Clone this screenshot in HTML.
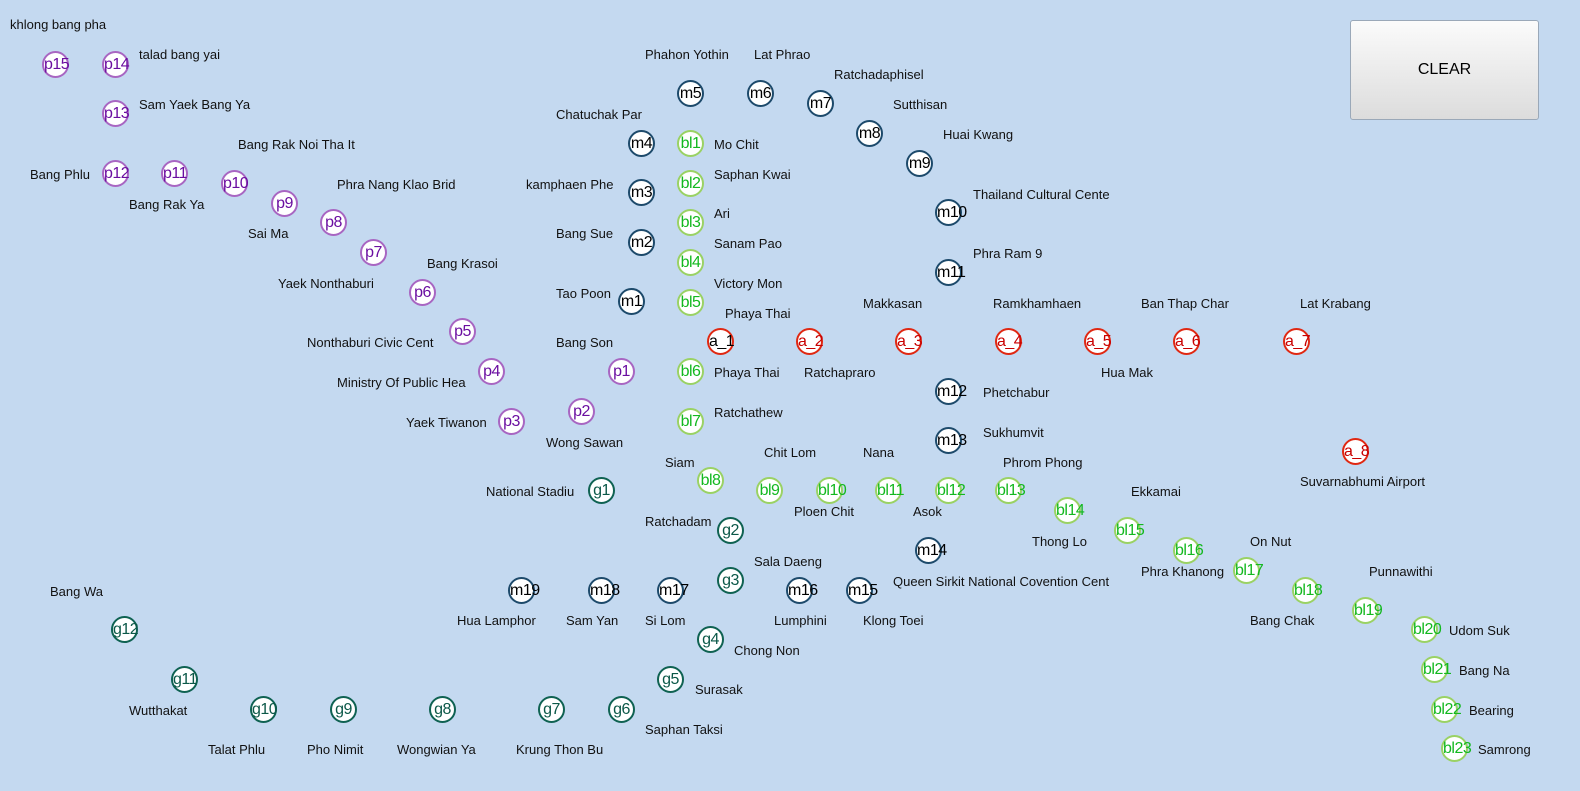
<!DOCTYPE html>
<html><head><meta charset="utf-8"><style>
body{margin:0;width:1580px;height:791px;background:#c4d9f0;position:relative;overflow:hidden;font-family:"Liberation Sans",sans-serif;}
.l{position:absolute;font-size:13px;line-height:16px;color:#111;white-space:nowrap;}
.n{position:absolute;width:27px;height:27px;box-sizing:border-box;border:2px solid;border-radius:50%;background:#fff;font-size:16px;line-height:23px;text-align:center;white-space:nowrap;letter-spacing:-0.5px;}
.p{border-color:#a866c2;color:#6a0ea0}
.m{border-color:#1d4a6b;color:#000}
.b{border-color:#9ad264;color:#13b81f}
.a{border-color:#e02812;color:#c80000}
.g{border-color:#0f6252;color:#0b5848}
.btn{position:absolute;left:1350px;top:20px;width:189px;height:100px;box-sizing:border-box;border:1px solid #9aa8b8;border-radius:3px;background:linear-gradient(#fbfbfb,#dcdcdc);font-size:16px;line-height:98px;text-align:center;color:#000;}
</style></head><body>
<div class="btn">CLEAR</div>

<div class="n p" style="left:42px;top:51px">p15</div>
<div class="n p" style="left:102px;top:51px">p14</div>
<div class="n p" style="left:102px;top:100px">p13</div>
<div class="n p" style="left:102px;top:160px">p12</div>
<div class="n p" style="left:161px;top:160px">p11</div>
<div class="n p" style="left:221px;top:170px">p10</div>
<div class="n p" style="left:271px;top:190px">p9</div>
<div class="n p" style="left:320px;top:209px">p8</div>
<div class="n p" style="left:360px;top:239px">p7</div>
<div class="n p" style="left:409px;top:279px">p6</div>
<div class="n p" style="left:449px;top:318px">p5</div>
<div class="n p" style="left:478px;top:358px">p4</div>
<div class="n p" style="left:498px;top:408px">p3</div>
<div class="n p" style="left:568px;top:398px">p2</div>
<div class="n p" style="left:608px;top:358px">p1</div>

<div class="n m" style="left:618px;top:288px">m1</div>
<div class="n m" style="left:628px;top:229px">m2</div>
<div class="n m" style="left:628px;top:179px">m3</div>
<div class="n m" style="left:628px;top:130px">m4</div>
<div class="n m" style="left:677px;top:80px">m5</div>
<div class="n m" style="left:747px;top:80px">m6</div>
<div class="n m" style="left:807px;top:90px">m7</div>
<div class="n m" style="left:856px;top:120px">m8</div>
<div class="n m" style="left:906px;top:150px">m9</div>
<div class="n m" style="left:935px;top:199px">m10</div>
<div class="n m" style="left:935px;top:259px">m11</div>
<div class="n m" style="left:935px;top:378px">m12</div>
<div class="n m" style="left:935px;top:427px">m13</div>
<div class="n m" style="left:915px;top:537px">m14</div>
<div class="n m" style="left:846px;top:577px">m15</div>
<div class="n m" style="left:786px;top:577px">m16</div>
<div class="n m" style="left:657px;top:577px">m17</div>
<div class="n m" style="left:588px;top:577px">m18</div>
<div class="n m" style="left:508px;top:577px">m19</div>

<div class="n b" style="left:677px;top:130px">bl1</div>
<div class="n b" style="left:677px;top:170px">bl2</div>
<div class="n b" style="left:677px;top:209px">bl3</div>
<div class="n b" style="left:677px;top:249px">bl4</div>
<div class="n b" style="left:677px;top:289px">bl5</div>
<div class="n b" style="left:677px;top:358px">bl6</div>
<div class="n b" style="left:677px;top:408px">bl7</div>
<div class="n b" style="left:697px;top:467px">bl8</div>
<div class="n b" style="left:756px;top:477px">bl9</div>
<div class="n b" style="left:816px;top:477px">bl10</div>
<div class="n b" style="left:875px;top:477px">bl11</div>
<div class="n b" style="left:935px;top:477px">bl12</div>
<div class="n b" style="left:995px;top:477px">bl13</div>
<div class="n b" style="left:1054px;top:497px">bl14</div>
<div class="n b" style="left:1114px;top:517px">bl15</div>
<div class="n b" style="left:1173px;top:537px">bl16</div>
<div class="n b" style="left:1233px;top:557px">bl17</div>
<div class="n b" style="left:1292px;top:577px">bl18</div>
<div class="n b" style="left:1352px;top:597px">bl19</div>
<div class="n b" style="left:1411px;top:616px">bl20</div>
<div class="n b" style="left:1421px;top:656px">bl21</div>
<div class="n b" style="left:1431px;top:696px">bl22</div>
<div class="n b" style="left:1441px;top:735px">bl23</div>

<div class="n a" style="left:707px;top:328px;color:#000">a_1</div>
<div class="n a" style="left:796px;top:328px">a_2</div>
<div class="n a" style="left:895px;top:328px">a_3</div>
<div class="n a" style="left:995px;top:328px">a_4</div>
<div class="n a" style="left:1084px;top:328px">a_5</div>
<div class="n a" style="left:1173px;top:328px">a_6</div>
<div class="n a" style="left:1283px;top:328px">a_7</div>
<div class="n a" style="left:1342px;top:438px">a_8</div>

<div class="n g" style="left:588px;top:477px">g1</div>
<div class="n g" style="left:717px;top:517px">g2</div>
<div class="n g" style="left:717px;top:567px">g3</div>
<div class="n g" style="left:697px;top:626px">g4</div>
<div class="n g" style="left:657px;top:666px">g5</div>
<div class="n g" style="left:608px;top:696px">g6</div>
<div class="n g" style="left:538px;top:696px">g7</div>
<div class="n g" style="left:429px;top:696px">g8</div>
<div class="n g" style="left:330px;top:696px">g9</div>
<div class="n g" style="left:250px;top:696px">g10</div>
<div class="n g" style="left:171px;top:666px">g11</div>
<div class="n g" style="left:111px;top:616px">g12</div>

<div class="l" style="left:10px;top:17px">khlong bang pha</div>
<div class="l" style="left:139px;top:47px">talad bang yai</div>
<div class="l" style="left:139px;top:97px">Sam Yaek Bang Ya</div>
<div class="l" style="left:238px;top:137px">Bang Rak Noi Tha It</div>
<div class="l" style="left:30px;top:167px">Bang Phlu</div>
<div class="l" style="left:129px;top:197px">Bang Rak Ya</div>
<div class="l" style="left:337px;top:177px">Phra Nang Klao Brid</div>
<div class="l" style="left:248px;top:226px">Sai Ma</div>
<div class="l" style="left:278px;top:276px">Yaek Nonthaburi</div>
<div class="l" style="left:427px;top:256px">Bang Krasoi</div>
<div class="l" style="left:307px;top:335px">Nonthaburi Civic Cent</div>
<div class="l" style="left:337px;top:375px">Ministry Of Public Hea</div>
<div class="l" style="left:406px;top:415px">Yaek Tiwanon</div>
<div class="l" style="left:546px;top:435px">Wong Sawan</div>
<div class="l" style="left:556px;top:335px">Bang Son</div>
<div class="l" style="left:556px;top:286px">Tao Poon</div>
<div class="l" style="left:556px;top:226px">Bang Sue</div>
<div class="l" style="left:526px;top:177px">kamphaen Phe</div>
<div class="l" style="left:556px;top:107px">Chatuchak Par</div>
<div class="l" style="left:645px;top:47px">Phahon Yothin</div>
<div class="l" style="left:754px;top:47px">Lat Phrao</div>
<div class="l" style="left:834px;top:67px">Ratchadaphisel</div>
<div class="l" style="left:893px;top:97px">Sutthisan</div>
<div class="l" style="left:943px;top:127px">Huai Kwang</div>
<div class="l" style="left:973px;top:187px">Thailand Cultural Cente</div>
<div class="l" style="left:973px;top:246px">Phra Ram 9</div>
<div class="l" style="left:714px;top:137px">Mo Chit</div>
<div class="l" style="left:714px;top:167px">Saphan Kwai</div>
<div class="l" style="left:714px;top:206px">Ari</div>
<div class="l" style="left:714px;top:236px">Sanam Pao</div>
<div class="l" style="left:714px;top:276px">Victory Mon</div>
<div class="l" style="left:725px;top:306px">Phaya Thai</div>
<div class="l" style="left:863px;top:296px">Makkasan</div>
<div class="l" style="left:993px;top:296px">Ramkhamhaen</div>
<div class="l" style="left:1141px;top:296px">Ban Thap Char</div>
<div class="l" style="left:1300px;top:296px">Lat Krabang</div>
<div class="l" style="left:714px;top:365px">Phaya Thai</div>
<div class="l" style="left:804px;top:365px">Ratchapraro</div>
<div class="l" style="left:1101px;top:365px">Hua Mak</div>
<div class="l" style="left:983px;top:385px">Phetchabur</div>
<div class="l" style="left:714px;top:405px">Ratchathew</div>
<div class="l" style="left:983px;top:425px">Sukhumvit</div>
<div class="l" style="left:764px;top:445px">Chit Lom</div>
<div class="l" style="left:863px;top:445px">Nana</div>
<div class="l" style="left:1003px;top:455px">Phrom Phong</div>
<div class="l" style="left:665px;top:455px">Siam</div>
<div class="l" style="left:1131px;top:484px">Ekkamai</div>
<div class="l" style="left:1300px;top:474px">Suvarnabhumi Airport</div>
<div class="l" style="left:486px;top:484px">National Stadiu</div>
<div class="l" style="left:645px;top:514px">Ratchadam</div>
<div class="l" style="left:794px;top:504px">Ploen Chit</div>
<div class="l" style="left:913px;top:504px">Asok</div>
<div class="l" style="left:1032px;top:534px">Thong Lo</div>
<div class="l" style="left:1250px;top:534px">On Nut</div>
<div class="l" style="left:1141px;top:564px">Phra Khanong</div>
<div class="l" style="left:754px;top:554px">Sala Daeng</div>
<div class="l" style="left:893px;top:574px">Queen Sirkit National Covention Cent</div>
<div class="l" style="left:1369px;top:564px">Punnawithi</div>
<div class="l" style="left:50px;top:584px">Bang Wa</div>
<div class="l" style="left:457px;top:613px">Hua Lamphor</div>
<div class="l" style="left:566px;top:613px">Sam Yan</div>
<div class="l" style="left:645px;top:613px">Si Lom</div>
<div class="l" style="left:774px;top:613px">Lumphini</div>
<div class="l" style="left:863px;top:613px">Klong Toei</div>
<div class="l" style="left:1250px;top:613px">Bang Chak</div>
<div class="l" style="left:1449px;top:623px">Udom Suk</div>
<div class="l" style="left:734px;top:643px">Chong Non</div>
<div class="l" style="left:1459px;top:663px">Bang Na</div>
<div class="l" style="left:695px;top:682px">Surasak</div>
<div class="l" style="left:129px;top:703px">Wutthakat</div>
<div class="l" style="left:1469px;top:703px">Bearing</div>
<div class="l" style="left:645px;top:722px">Saphan Taksi</div>
<div class="l" style="left:208px;top:742px">Talat Phlu</div>
<div class="l" style="left:307px;top:742px">Pho Nimit</div>
<div class="l" style="left:397px;top:742px">Wongwian Ya</div>
<div class="l" style="left:516px;top:742px">Krung Thon Bu</div>
<div class="l" style="left:1478px;top:742px">Samrong</div>
</body></html>
